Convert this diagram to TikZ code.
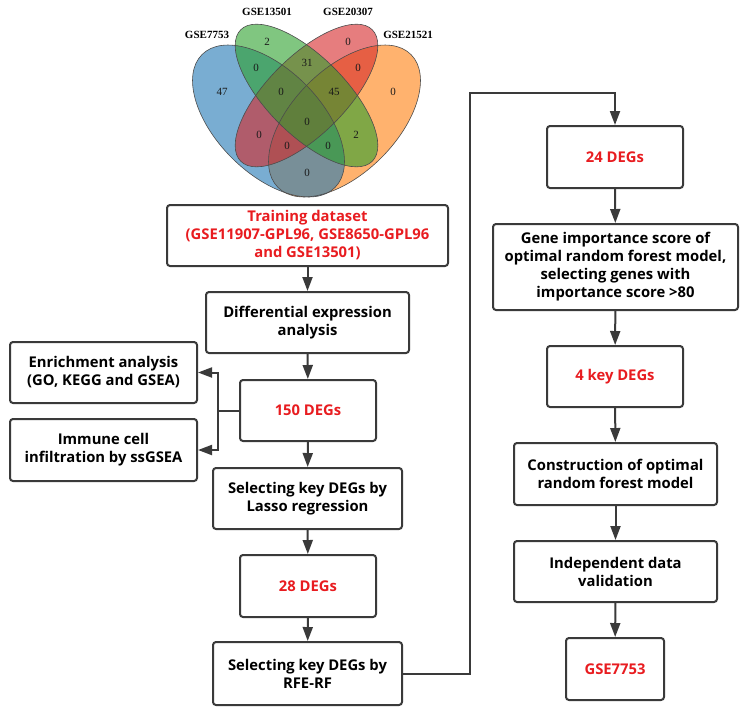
\documentclass[tikz,border=0pt]{standalone}
\usepackage{fontspec}
\setmainfont{Open Sans}
\newfontfamily\vennfont{Liberation Serif}
\usetikzlibrary{arrows.meta}
\definecolor{degred}{RGB}{232,28,32}
\definecolor{edgegray}{RGB}{58,58,58}
\definecolor{vennblue}{RGB}{31,119,180}
\definecolor{venngreen}{RGB}{44,160,44}
\definecolor{vennred}{RGB}{214,39,40}
\definecolor{vennorange}{RGB}{255,127,14}
\tikzset{>={Triangle[length=14pt,width=10pt]}, % long filled triangle heads
box/.style={draw=edgegray, line width=2pt, rounded corners=3pt, align=center, inner sep=0pt,
  font=\bfseries\fontsize{14.8}{18}\selectfont, text=black}, % every flow box
hlbox/.style={box, text=degred}, % boxes with red text
flow/.style={->, draw=edgegray, line width=2pt},
vennfill/.style={fill opacity=0.6, draw=none},
vennline/.style={draw=black!70, line width=0.6pt},
setlabel/.style={font=\vennfont\bfseries\fontsize{11}{13}\selectfont},
count/.style={font=\vennfont\fontsize{11}{13}\selectfont, text=black!90},
}
\begin{document}
\begin{tikzpicture}[x=1pt, y=-1pt]
    \useasboundingbox (0,0) rectangle (746,713);
    % venn diagram, orange at the bottom and green on top
    \fill[vennfill, vennorange, rotate around={45:(344.5,121)}] (344.5,121) ellipse [x radius=94, y radius=52];
    \fill[vennfill, vennblue, rotate around={-45:(268.5,121)}] (268.5,121) ellipse [x radius=94, y radius=52];
    \fill[vennfill, vennred, rotate around={45:(306.5,95.5)}] (306.5,95.5) ellipse [x radius=93, y radius=39];
    \fill[vennfill, venngreen, rotate around={-45:(306.5,95.5)}] (306.5,95.5) ellipse [x radius=93, y radius=39];
    \draw[vennline, rotate around={-45:(268.5,121)}] (268.5,121) ellipse [x radius=94, y radius=52];
    \draw[vennline, rotate around={-45:(306.5,95.5)}] (306.5,95.5) ellipse [x radius=93, y radius=39];
    \draw[vennline, rotate around={45:(306.5,95.5)}] (306.5,95.5) ellipse [x radius=93, y radius=39];
    \draw[vennline, rotate around={45:(344.5,121)}] (344.5,121) ellipse [x radius=94, y radius=52];
    \node[setlabel] (s1) at (207,35) {GSE7753};
    \node[setlabel] (s2) at (267,12) {GSE13501};
    \node[setlabel] (s3) at (348,12) {GSE20307};
    \node[setlabel] (s4) at (408,35) {GSE21521};
    \node[count] (n1) at (267,42) {2};
    \node[count] (n2) at (348,42) {0};
    \node[count] (n3) at (256,68) {0};
    \node[count] (n4) at (307,63) {31};
    \node[count] (n5) at (358,68) {0};
    \node[count] (n6) at (222,92) {47};
    \node[count] (n7) at (281,92) {0};
    \node[count] (n8) at (334,92) {45};
    \node[count] (n9) at (393,92) {0};
    \node[count] (n10) at (307,122) {0};
    \node[count] (n11) at (259,135) {0};
    \node[count] (n12) at (356,135) {2};
    \node[count] (n13) at (287,146) {0};
    \node[count] (n14) at (328,146) {0};
    \node[count] (n15) at (307,173) {0};

    % left column
    \node[hlbox, minimum width=281, minimum height=61] (train) at (307.5,235.5)
      {Training dataset\\(GSE11907-GPL96, GSE8650-GPL96\\and GSE13501)};
    \node[box, minimum width=203, minimum height=61] (diff) at (307.5,322.5) {Differential expression\\analysis};
    \node[hlbox, minimum width=136, minimum height=61] (deg150) at (308,410.5) {150 DEGs};
    \node[box, minimum width=187, minimum height=61] (enrich) at (103.5,372.5) {Enrichment analysis\\(GO, KEGG and GSEA)};
    \node[box, minimum width=187, minimum height=62] (immune) at (103.5,450) {Immune cell\\infiltration by ssGSEA};
    \node[box, minimum width=189, minimum height=61] (lasso) at (307.5,498.5) {Selecting key DEGs by\\Lasso regression};
    \node[hlbox, minimum width=136, minimum height=62] (deg28) at (308,586) {28 DEGs};
    \node[box, minimum width=189, minimum height=63] (rfe) at (307.5,673.5) {Selecting key DEGs by\\RFE-RF};

    % right column
    \node[hlbox, minimum width=136, minimum height=62] (deg24) at (615,157) {24 DEGs};
    \node[box, minimum width=245, minimum height=86] (gene) at (615.5,267)
      {Gene importance score of\\optimal random forest model,\\selecting genes with\\importance score >80};
    \node[hlbox, minimum width=136, minimum height=61] (key4) at (615,376.5) {4 key DEGs};
    \node[box, minimum width=203, minimum height=62] (constr) at (615.5,474) {Construction of optimal\\random forest model};
    \node[box, minimum width=203, minimum height=61] (indep) at (615.5,571.5) {Independent data\\validation};
    \node[hlbox, minimum width=98, minimum height=62] (gse) at (615,669) {GSE7753};

    \coordinate (split) at (218,410.5);
    \coordinate (turn) at (470,93);
    \draw[flow] (train) -- (diff);
    \draw[flow] (diff) -- (deg150);
    \draw[draw=edgegray, line width=2pt] (deg150.west) -- (split);
    \draw[flow] (split) |- (enrich.east);
    \draw[flow] (split) |- (immune.east);
    \draw[flow] (deg150) -- (lasso);
    \draw[flow] (lasso) -- (deg28);
    \draw[flow] (deg28) -- (rfe);
    \draw[flow] (rfe.east) -| (turn) -| (deg24.north);
    \draw[flow] (deg24) -- (gene);
    \draw[flow] (gene) -- (key4);
    \draw[flow] (key4) -- (constr);
    \draw[flow] (constr) -- (indep);
    \draw[flow] (indep) -- (gse);
\end{tikzpicture}
\end{document}
